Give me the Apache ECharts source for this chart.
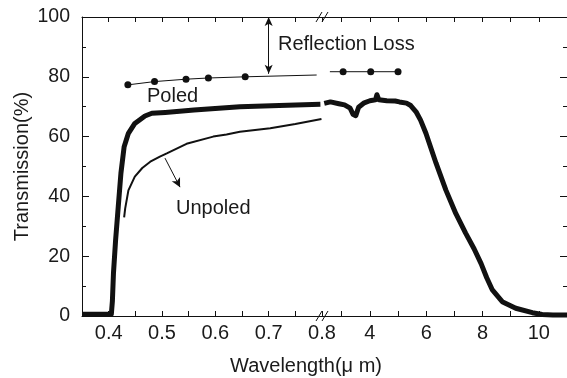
<!DOCTYPE html>
<html>
<head>
<meta charset="utf-8">
<script src="https://cdn.jsdelivr.net/npm/echarts@6/dist/echarts.min.js"></script>
<style>
html,body{margin:0;padding:0;background:#fff;}
#chart{width:567px;height:378px;}
</style>
</head>
<body>
<div id="chart"></div>
<script>
// ---- data ----
const leftTickValues = [0.35, 0.4, 0.45, 0.5, 0.55, 0.6, 0.65, 0.7, 0.75, 0.8];
const leftLabelValues = [0.4, 0.5, 0.6, 0.7, 0.8];
const rightTickValues = [3, 4, 5, 6, 7, 8, 9, 10];
const rightLabelValues = [4, 6, 8, 10];
const yTickLabels = [0, 20, 40, 60, 80, 100];

const poledLeftX = [0.35, 0.405, 0.407, 0.409, 0.413, 0.418, 0.423, 0.429, 0.437, 0.449, 0.468, 0.481, 0.506, 0.56, 0.646, 0.72, 0.797];
const poledLeftY = [0.6, 0.6, 5, 14.3, 25.4, 36.6, 47.8, 56.6, 61.1, 64.4, 66.9, 67.8, 68.1, 68.9, 70.0, 70.4, 70.8];

const poledRightX = [2.38, 2.6, 2.9, 3.1, 3.3, 3.4, 3.5, 3.6, 3.8, 4.0, 4.2, 4.25, 4.32, 4.6, 4.9, 5.05, 5.3, 5.45, 5.64, 5.8, 5.99, 6.35, 6.70, 7.05, 7.40, 7.7, 7.95, 8.15, 8.35, 8.70, 9.18, 9.77, 10.12, 10.5, 11.0];
const poledRightY = [71.1, 71.6, 71.0, 70.6, 69.5, 67.5, 67.0, 69.8, 71.3, 72.0, 72.3, 74.0, 72.3, 72.0, 71.9, 71.6, 71.2, 70.4, 68.3, 65.5, 61.1, 51.1, 42.1, 34.3, 27.7, 22.5, 17.5, 12.8, 8.7, 4.8, 2.6, 1.1, 0.5, 0.3, 0.3];

const unpoledX = [0.429, 0.431, 0.437, 0.449, 0.463, 0.478, 0.496, 0.509, 0.546, 0.596, 0.621, 0.646, 0.703, 0.750, 0.799];
const unpoledY = [33.0, 36.0, 42.0, 46.6, 49.5, 51.6, 53.3, 54.4, 57.6, 60.0, 60.7, 61.6, 62.8, 64.2, 65.9];

const reflLeftX = [0.436, 0.486, 0.545, 0.587, 0.656, 0.79];
const reflLeftY = [77.3, 78.4, 79.2, 79.6, 80.0, 80.6];
const reflLeftDots = 5;
const reflRightX = [2.58, 3.05, 4.03, 5.0];
const reflRightY = [81.7, 81.7, 81.7, 81.7];

const reflArrowX = [0.70, 0.70];
const reflArrowY = [100, 81];
const unpoledArrowX = [0.5056, 0.5338];
const unpoledArrowY = [52.8, 43.1];

// ---- chart ----
const FONT = '"Liberation Sans", Arial, sans-serif';
const INK = '#111';
const zip = (xs, ys) => xs.map((x, i) => [x, ys[i]]);

const chart = echarts.init(document.getElementById('chart'), null, {renderer: 'canvas'});

const axisLineStyle = {color: INK, width: 1};
function xAxisDef(gridIndex, pos, min, max, ticks, labels) {
  return {
    type: 'value', gridIndex: gridIndex, position: pos, min: min, max: max,
    axisLine: {show: true, onZero: false, lineStyle: axisLineStyle},
    axisTick: {show: true, inside: true, length: 5, customValues: ticks, lineStyle: axisLineStyle},
    axisLabel: labels ? {show: true, customValues: labels, margin: 7, fontFamily: FONT, fontSize: 20, color: '#1a1a1a', formatter: v => String(v)} : {show: false},
    splitLine: {show: false}
  };
}
function yAxisDef(gridIndex, pos, labels) {
  return {
    type: 'value', gridIndex: gridIndex, position: pos, min: 0, max: 100, interval: 20,
    axisLine: {show: true, lineStyle: axisLineStyle},
    axisTick: {show: true, inside: true, length: 7, lineStyle: axisLineStyle},
    minorTick: {show: true, splitNumber: 2, length: 4, lineStyle: axisLineStyle},
    axisLabel: labels ? {show: true, margin: 12, fontFamily: FONT, fontSize: 19.5, color: '#1a1a1a', customValues: yTickLabels} : {show: false},
    splitLine: {show: false},
    minorSplitLine: {show: false},
    name: labels ? 'Transmission(%)' : '',
    nameLocation: 'middle', nameRotate: 90, nameGap: 50,
    nameTextStyle: {fontFamily: FONT, fontSize: 20, color: '#1a1a1a'}
  };
}

const option = {
  animation: false,
  backgroundColor: '#fff',
  grid: [
    {left: 82, top: 17, width: 240, height: 299},
    {left: 322, top: 17, width: 246, height: 299}
  ],
  xAxis: [
    xAxisDef(0, 'bottom', 0.35, 0.8, leftTickValues, leftLabelValues),
    xAxisDef(0, 'top', 0.35, 0.8, leftTickValues, null),
    xAxisDef(1, 'bottom', 2.3, 11, rightTickValues, rightLabelValues),
    xAxisDef(1, 'top', 2.3, 11, rightTickValues, null)
  ],
  yAxis: [
    yAxisDef(0, 'left', true),
    yAxisDef(1, 'right', false)
  ],
  series: [
    {
      name: 'Poled', type: 'line', xAxisIndex: 0, yAxisIndex: 0,
      data: zip(poledLeftX, poledLeftY), showSymbol: false, symbol: 'none',
      lineStyle: {color: INK, width: 5, join: 'round'}, z: 3
    },
    {
      name: 'Unpoled', type: 'line', xAxisIndex: 0, yAxisIndex: 0,
      data: zip(unpoledX, unpoledY), showSymbol: false, symbol: 'none',
      lineStyle: {color: INK, width: 2}, z: 2,
      markLine: {
        silent: true, symbol: ['none', 'arrow'], symbolSize: [7, 9],
        label: {show: false},
        lineStyle: {color: INK, width: 1, type: 'solid'},
        data: [[{coord: [unpoledArrowX[0], unpoledArrowY[0]]}, {coord: [unpoledArrowX[1], unpoledArrowY[1]]}]]
      }
    },
    {
      name: 'ReflLeft', type: 'line', xAxisIndex: 0, yAxisIndex: 0,
      data: zip(reflLeftX, reflLeftY), symbol: 'circle',
      symbolSize: (v, p) => p.dataIndex < reflLeftDots ? 7 : 0,
      itemStyle: {color: INK}, lineStyle: {color: INK, width: 1},
      markLine: {
        silent: true, symbol: ['arrow', 'arrow'], symbolSize: [6, 9],
        label: {show: false},
        lineStyle: {color: INK, width: 1, type: 'solid'},
        data: [[{coord: [reflArrowX[0], reflArrowY[0]]}, {coord: [reflArrowX[1], reflArrowY[1]]}]]
      }
    },
    {
      name: 'PoledRight', type: 'line', xAxisIndex: 2, yAxisIndex: 1,
      data: zip(poledRightX, poledRightY), showSymbol: false, symbol: 'none',
      lineStyle: {color: INK, width: 5, join: 'round'}, z: 3
    },
    {
      name: 'ReflRight', type: 'line', xAxisIndex: 2, yAxisIndex: 1,
      data: zip(reflRightX, reflRightY), symbol: 'circle',
      symbolSize: (v, p) => p.dataIndex > 0 ? 7 : 0,
      itemStyle: {color: INK}, lineStyle: {color: INK, width: 1}
    }
  ],
  graphic: [
    {type: 'text', left: 278, top: 34, style: {text: 'Reflection Loss', font: '20px ' + FONT, fill: '#1a1a1a'}},
    {type: 'text', left: 147, top: 86, style: {text: 'Poled', font: '20px ' + FONT, fill: '#1a1a1a'}},
    {type: 'text', left: 176, top: 198, style: {text: 'Unpoled', font: '20px ' + FONT, fill: '#1a1a1a'}},
    {type: 'text', x: 306, y: 366, style: {text: 'Wavelength(\u03bc m)', font: '20px ' + FONT, fill: '#1a1a1a', align: 'center', verticalAlign: 'middle'}},
    // axis break marks
    {type: 'line', shape: {x1: 316, y1: 22, x2: 322, y2: 12}, style: {stroke: INK, lineWidth: 1}, z: 100},
    {type: 'line', shape: {x1: 322, y1: 22, x2: 328, y2: 12}, style: {stroke: INK, lineWidth: 1}, z: 100},
    {type: 'line', shape: {x1: 316, y1: 321, x2: 322, y2: 311}, style: {stroke: INK, lineWidth: 1}, z: 100},
    {type: 'line', shape: {x1: 322, y1: 321, x2: 328, y2: 311}, style: {stroke: INK, lineWidth: 1}, z: 100}
  ]
};
chart.setOption(option);
</script>
</body>
</html>
